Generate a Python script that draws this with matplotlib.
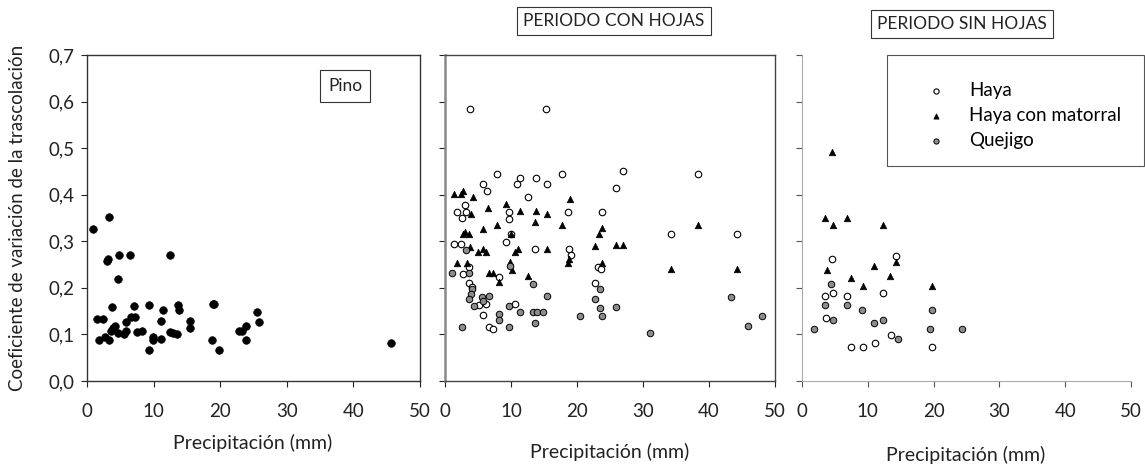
import matplotlib
matplotlib.use('Agg')
import matplotlib.pyplot as plt
from matplotlib.patches import Rectangle

plt.rcParams['font.family'] = ['Lato', 'DejaVu Sans']

# ---------------- data ----------------
pino_x = [0.85, 3.35, 3.15, 3.05, 4.85, 6.46, 12.46, 4.65, 3.7, 7.06, 9.3, 13.6, 13.8,
          11.46, 18.97, 19.1, 25.6, 25.9, 23.8, 23.3, 22.8, 23.8, 19.8, 18.7, 15.5, 15.5,
          12.4, 12.9, 13.5, 11.06, 11.06, 9.86, 9.86, 9.26, 8.2, 7.56, 6.56, 7.2, 5.86,
          5.86, 5.6, 4.7, 4.2, 3.95, 3.55, 1.45, 2.45, 2.7, 1.85, 3.25, 45.6]
pino_y = [0.326, 0.352, 0.263, 0.258, 0.27, 0.27, 0.27, 0.22, 0.159, 0.16, 0.163, 0.163,
          0.152, 0.152, 0.165, 0.165, 0.149, 0.127, 0.119, 0.108, 0.108, 0.087, 0.067,
          0.087, 0.129, 0.113, 0.106, 0.102, 0.100, 0.129, 0.090, 0.095, 0.087, 0.067,
          0.108, 0.106, 0.137, 0.137, 0.127, 0.108, 0.101, 0.102, 0.119, 0.113, 0.108,
          0.133, 0.133, 0.095, 0.087, 0.087, 0.082]

con_haya_x = [3.79, 15.3, 7.83, 11.36, 10.96, 13.8, 15.4, 17.8, 5.8, 6.4, 12.5, 25.9, 27.0,
              3.03, 1.77, 3.18, 2.58, 9.75, 9.75, 18.6, 23.8, 10.0, 9.2, 1.36, 2.37, 13.6,
              18.8, 19.1, 23.2, 23.7, 3.7, 2.8, 8.2, 3.64, 4.1, 22.8, 10.65, 6.2, 5.2, 5.8,
              6.6, 7.2, 38.4, 34.2, 44.2]
con_haya_y = [0.583, 0.583, 0.444, 0.435, 0.422, 0.435, 0.422, 0.444, 0.422, 0.407, 0.396,
              0.415, 0.451, 0.378, 0.362, 0.362, 0.349, 0.362, 0.347, 0.362, 0.362, 0.316,
              0.299, 0.295, 0.295, 0.283, 0.283, 0.270, 0.245, 0.240, 0.245, 0.230, 0.224,
              0.211, 0.201, 0.211, 0.165, 0.165, 0.164, 0.142, 0.115, 0.112, 0.444, 0.316,
              0.316]

con_mat_x = [1.36, 2.37, 2.77, 4.2, 9.2, 6.5, 11.4, 13.8, 15.4, 19.0, 13.6, 3.9, 7.83, 5.8,
             17.8, 3.03, 2.68, 3.7, 10.0, 23.8, 23.3, 3.79, 5.7, 6.2, 5.05, 11.1, 10.6, 15.4,
             22.8, 25.9, 27.0, 1.77, 3.3, 9.85, 10.1, 18.6, 18.8, 23.8, 6.6, 7.2, 8.2, 12.5,
             38.4, 34.2, 44.2]
con_mat_y = [0.402, 0.402, 0.409, 0.396, 0.381, 0.371, 0.365, 0.365, 0.358, 0.391, 0.341,
             0.359, 0.335, 0.326, 0.335, 0.321, 0.316, 0.316, 0.316, 0.328, 0.316, 0.288,
             0.283, 0.276, 0.276, 0.283, 0.276, 0.283, 0.290, 0.291, 0.291, 0.254, 0.254,
             0.255, 0.238, 0.254, 0.261, 0.254, 0.232, 0.232, 0.213, 0.225, 0.334, 0.240,
             0.240]

con_que_x = [1.0, 3.2, 3.7, 9.85, 4.1, 3.9, 3.64, 5.56, 6.6, 5.8, 4.4, 13.4, 15.4, 9.75, 8.2,
             8.2, 11.4, 13.4, 13.9, 14.85, 20.45, 2.58, 9.75, 13.6, 22.8, 23.5, 23.5, 23.8,
             25.9, 31.1, 43.4, 45.9, 48.0]
con_que_y = [0.231, 0.281, 0.231, 0.248, 0.198, 0.187, 0.176, 0.180, 0.183, 0.172, 0.160,
             0.208, 0.183, 0.160, 0.144, 0.132, 0.149, 0.149, 0.149, 0.149, 0.140, 0.117,
             0.117, 0.125, 0.176, 0.198, 0.156, 0.140, 0.158, 0.103, 0.181, 0.118, 0.140]

sin_haya_x = [4.51, 14.3, 3.5, 4.76, 6.9, 12.3, 3.65, 7.5, 9.2, 11.05, 13.5, 19.7]
sin_haya_y = [0.262, 0.268, 0.182, 0.190, 0.182, 0.190, 0.135, 0.074, 0.074, 0.082, 0.099,
              0.074]

sin_mat_x = [4.51, 3.5, 6.9, 4.76, 12.36, 3.75, 10.9, 14.3, 7.5, 13.4, 9.2, 19.7]
sin_mat_y = [0.492, 0.351, 0.351, 0.334, 0.334, 0.238, 0.248, 0.256, 0.222, 0.226, 0.205,
             0.205]

sin_que_x = [4.4, 3.5, 6.9, 4.76, 9.07, 10.9, 12.3, 1.87, 14.6, 19.7, 19.45, 24.3]
sin_que_y = [0.209, 0.163, 0.163, 0.130, 0.152, 0.125, 0.130, 0.112, 0.090, 0.152, 0.112,
             0.112]

x_ticks = [0, 10, 20, 30, 40, 50]
x_ticklabels = ['0', '10', '20', '30', '40', '50']
y_ticks = [0.0, 0.1, 0.2, 0.3, 0.4, 0.5, 0.6, 0.7]
y_ticklabels = ['0,0', '0,1', '0,2', '0,3', '0,4', '0,5', '0,6', '0,7']

series_labels = ['Haya', 'Haya con matorral', 'Quejigo']
xlabel = 'Precipitación (mm)'
ylabel = 'Coeficiente de variación de la trascolación'

# ---------------- figure ----------------
W, H = 1145, 465
fig = plt.figure(figsize=(W / 100, H / 100), dpi=100)
fig.patch.set_facecolor('white')

def fx(px):
    return px / W

def fy(py):
    return 1 - py / H

bottom = fy(381)
height = fy(55) - fy(381)
ax1 = fig.add_axes([fx(87), bottom, fx(420) - fx(87), height])
ax2 = fig.add_axes([fx(445), bottom, fx(775) - fx(445), height])
ax3 = fig.add_axes([fx(802), bottom, fx(1131) - fx(802), height])

TICKFS = 13.5
for ax in (ax1, ax2, ax3):
    ax.set_xlim(0, 50)
    ax.set_ylim(0, 0.7)
    ax.set_xticks(x_ticks)
    ax.set_xticklabels(x_ticklabels)
    ax.set_yticks(y_ticks)
    ax.tick_params(axis='both', direction='out', length=4, width=0.8,
                   labelsize=TICKFS, colors='#222222')
    ax.tick_params(axis='x', pad=12)
    ax.tick_params(axis='y', pad=5)

ax1.set_yticklabels(y_ticklabels)
ax2.set_yticklabels([])
ax3.set_yticklabels([])

# spines
for s in ax1.spines.values():
    s.set_color('#333333')
    s.set_linewidth(1.0)
for name, s in ax2.spines.items():
    s.set_color('#444444')
    s.set_linewidth(1.0)
ax2.spines['left'].set_color('#888888')
ax2.spines['left'].set_linewidth(1.8)
ax3.spines['top'].set_visible(False)
ax3.spines['right'].set_visible(False)
ax3.spines['left'].set_color('#aaaaaa')
ax3.spines['bottom'].set_color('#aaaaaa')
ax3.tick_params(axis='both', colors='#555555', labelcolor='#222222')

# scatter
ax1.scatter(pino_x, pino_y, s=30, c='black', edgecolors='black', linewidths=0.5, zorder=3)

kw_h = dict(marker='o', s=22, facecolors='white', edgecolors='black', linewidths=0.8, zorder=3)
kw_m = dict(marker='^', s=22, facecolors='black', edgecolors='black', linewidths=0.5, zorder=3)
kw_q = dict(marker='o', s=22, facecolors='#8c8c8c', edgecolors='black', linewidths=0.7, zorder=3)

ax2.scatter(con_haya_x, con_haya_y, **kw_h)
ax2.scatter(con_mat_x, con_mat_y, **kw_m)
ax2.scatter(con_que_x, con_que_y, **kw_q)

h1 = ax3.scatter(sin_haya_x, sin_haya_y, label=series_labels[0], **kw_h)
h2 = ax3.scatter(sin_mat_x, sin_mat_y, label=series_labels[1], **kw_m)
h3 = ax3.scatter(sin_que_x, sin_que_y, label=series_labels[2], **kw_q)

# legend box
fig.patches.append(Rectangle((fx(887), fy(166)), fx(1144) - fx(887), fy(55) - fy(166),
                             transform=fig.transFigure, facecolor='white',
                             edgecolor='#555555', linewidth=0.8, zorder=5))
leg = fig.legend([h1, h2, h3], series_labels, loc='upper left',
                 bbox_to_anchor=(fx(913), fy(73)), frameon=False,
                 fontsize=13.5, handletextpad=1.0, labelspacing=0.42,
                 handlelength=1.5, borderpad=0, markerscale=0.8)
leg.set_zorder(6)

# labels
fig.text(fx(18), fy(218), ylabel, rotation=90, ha='center', va='center', fontsize=13.5,
         color='#222222')
fig.text(fx(253), fy(443), xlabel, ha='center', va='center', fontsize=14, color='#222222')
fig.text(fx(610), fy(452), xlabel, ha='center', va='center', fontsize=14, color='#222222')
fig.text(fx(966), fy(455), xlabel, ha='center', va='center', fontsize=14, color='#222222')

box = dict(boxstyle='square,pad=0.35', facecolor='white', edgecolor='#333333', linewidth=0.8)
fig.text(fx(614), fy(21), 'PERIODO CON HOJAS', ha='center', va='center', fontsize=12.5,
         color='#222222', bbox=box)
fig.text(fx(962), fy(24), 'PERIODO SIN HOJAS', ha='center', va='center', fontsize=12.5,
         color='#222222', bbox=box)
fig.text(fx(345), fy(86), 'Pino', ha='center', va='center', fontsize=12.5,
         color='#222222', bbox=dict(boxstyle='square,pad=0.45', facecolor='white',
                                     edgecolor='#333333', linewidth=0.8))

fig.savefig('out.png', dpi=100)
